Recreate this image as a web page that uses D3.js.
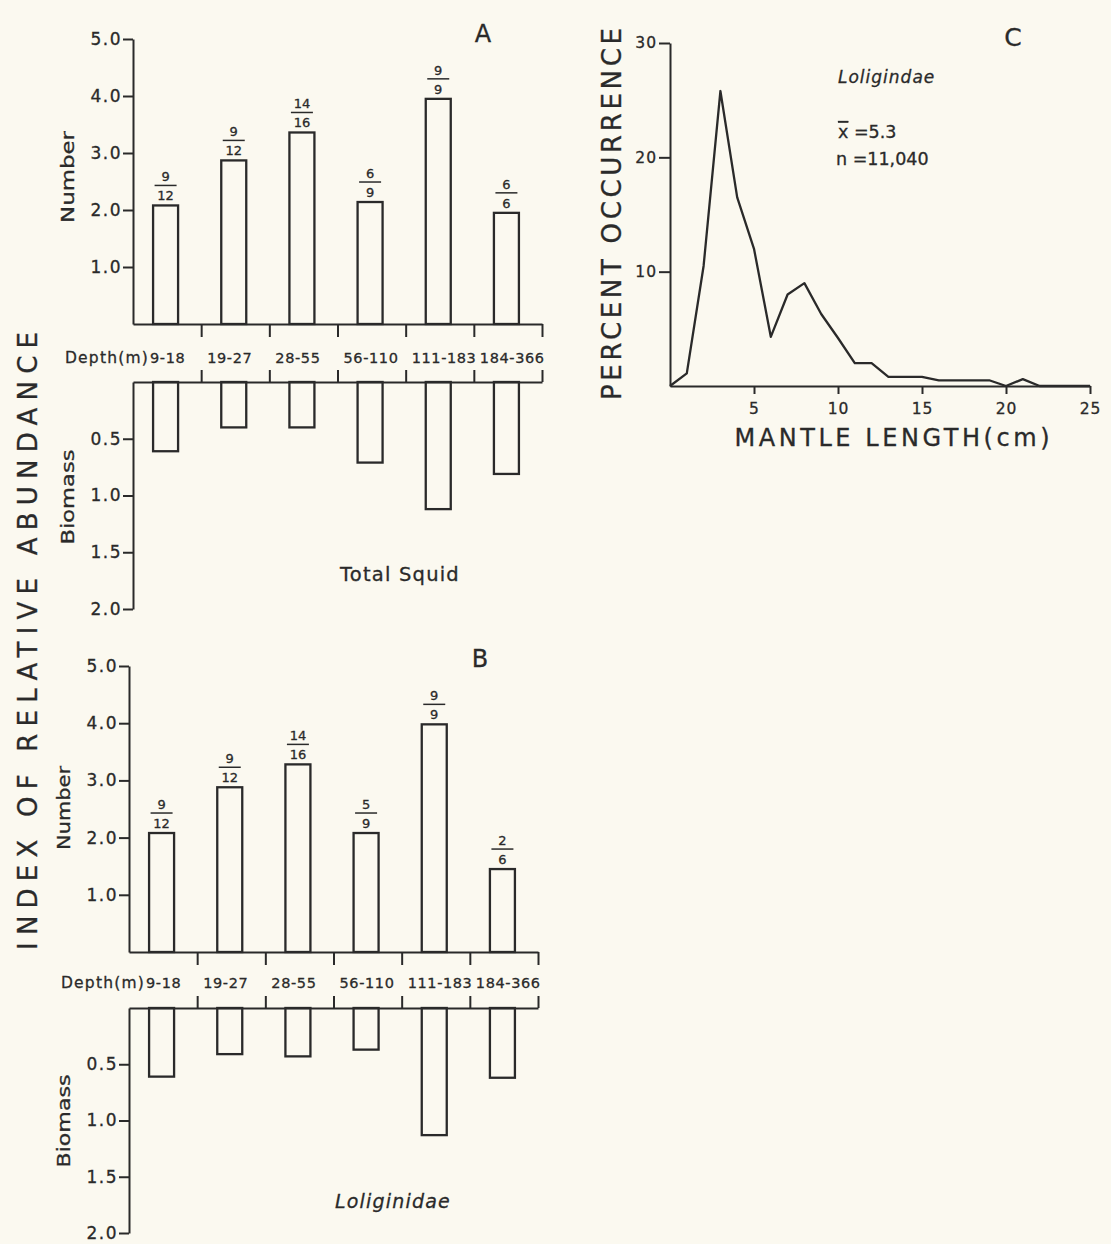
<!DOCTYPE html>
<html>
<head>
<meta charset="utf-8">
<script src="https://cdn.jsdelivr.net/npm/d3@7/dist/d3.min.js"></script>
<style>
body{margin:0;background:#fbf9f0;}
svg{display:block;font-family:"DejaVu Sans",sans-serif;}
text{fill:#2a2a2a;stroke:#2a2a2a;stroke-width:0.3px;}
.axis path,.axis line{stroke:#2a2a2a;stroke-width:2;}
.axis text{font-size:17px;letter-spacing:1.5px;fill:#2a2a2a;font-family:"DejaVu Sans",sans-serif;}
.bar{fill:#fbf9f0;stroke:#2a2a2a;stroke-width:2.3;}
</style>
</head>
<body>
<svg id="fig" width="1111" height="1244"></svg>
<script>
//depth classes shared by panels A and B
var depths = ["9-18", "19-27", "28-55", "56-110", "111-183", "184-366"];

//A: total squid
var numberA = [2.08, 2.87, 3.36, 2.14, 3.95, 1.95];
var biomassA = [0.61, 0.40, 0.40, 0.71, 1.12, 0.81];
var fracTopA = ["9", "9", "14", "6", "9", "6"];
var fracBotA = ["12", "12", "16", "9", "9", "6"];

//B: Loliginidae
var numberB = [2.08, 2.88, 3.28, 2.08, 3.98, 1.45];
var biomassB = [0.61, 0.41, 0.43, 0.37, 1.13, 0.62];
var fracTopB = ["9", "9", "14", "5", "9", "2"];
var fracBotB = ["12", "12", "16", "9", "9", "6"];

var numTicks = [1, 2, 3, 4, 5];
var bioTicks = [0.5, 1, 1.5, 2];

//C: mantle length frequency
var mantleLen = [0, 1, 2, 3, 4, 5, 6, 7, 8, 9, 10, 11, 12, 13, 14, 15, 16, 17, 18, 19, 20, 21, 22, 25];
var pctOcc = [0, 1.1, 10.5, 25.8, 16.5, 12, 4.3, 8, 9, 6.3, 4.2, 2, 2, 0.8, 0.8, 0.8, 0.5, 0.5, 0.5, 0.5, 0, 0.6, 0, 0];
var lenTicks = [5, 10, 15, 20, 25];
var pctTicks = [10, 20, 30];

var svg = d3.select("#fig");
var ink = "#2a2a2a";

function drawPanel(p){
	var xb = d3.scaleLinear().domain([0, depths.length]).range([p.x0, p.x1]);
	var yN = d3.scaleLinear().domain([0, 5]).range([p.base, p.top]);
	var yB = d3.scaleLinear().domain([0, 2]).range([p.low, p.bottom]);
	var bw = 25;
	var g = svg.append("g");

	//number bars
	g.selectAll(".nbar")
	  .data(p.number)
	.enter().append("rect")
	  .attr("class", "bar")
	  .attr("x", function(d, i){ return xb(i + 0.5) - bw / 2 - 1.5; })
	  .attr("y", function(d){ return yN(d); })
	  .attr("width", bw)
	  .attr("height", function(d){ return p.base - yN(d); });

	//biomass bars (hang down)
	g.selectAll(".bbar")
	  .data(p.biomass)
	.enter().append("rect")
	  .attr("class", "bar")
	  .attr("x", function(d, i){ return xb(i + 0.5) - bw / 2 - 1.5; })
	  .attr("y", p.low)
	  .attr("width", bw)
	  .attr("height", function(d){ return yB(d) - p.low; });

	//fractions above number bars
	p.number.forEach(function(v, i){
		var cx = xb(i + 0.5) - 1.5, ty = yN(v);
		g.append("text").attr("x", cx).attr("y", ty - 24)
		  .attr("text-anchor", "middle").style("font-size", "13px").text(p.fracTop[i]);
		g.append("line").attr("x1", cx - 11).attr("x2", cx + 11)
		  .attr("y1", ty - 20).attr("y2", ty - 20)
		  .attr("stroke", ink).attr("stroke-width", 1.5);
		g.append("text").attr("x", cx).attr("y", ty - 5)
		  .attr("text-anchor", "middle").style("font-size", "13px").text(p.fracBot[i]);
	});

	//axes
	g.append("g").attr("class", "axis")
	  .attr("transform", "translate(" + p.x0 + ",0)")
	  .call(d3.axisLeft(yN).tickValues(numTicks).tickFormat(d3.format(".1f"))
	    .tickSize(10).tickSizeOuter(0).tickPadding(1));
	g.append("g").attr("class", "axis")
	  .attr("transform", "translate(" + p.x0 + ",0)")
	  .call(d3.axisLeft(yB).tickValues(bioTicks).tickFormat(d3.format(".1f"))
	    .tickSize(10).tickSizeOuter(0).tickPadding(1));
	g.append("g").attr("class", "axis")
	  .attr("transform", "translate(0," + p.base + ")")
	  .call(d3.axisBottom(xb).tickValues([1, 2, 3, 4, 5, 6]).tickFormat("")
	    .tickSize(13).tickSizeOuter(0));
	g.append("g").attr("class", "axis")
	  .attr("transform", "translate(0," + p.low + ")")
	  .call(d3.axisTop(xb).tickValues([1, 2, 3, 4, 5, 6]).tickFormat("")
	    .tickSize(12).tickSizeOuter(0));

	//depth labels: each starts just right of its band's left divider
	g.append("text").attr("x", xb(0) + 16).attr("y", p.lab)
	  .attr("text-anchor", "end").style("font-size", "15.5px").style("letter-spacing", "1.2px")
	  .text("Depth(m)");
	g.selectAll(".dlab")
	  .data(depths)
	.enter().append("text")
	  .attr("x", function(d, i){ return i == 0 ? xb(0) + 17 : xb(i) + 6; })
	  .attr("y", p.lab)
	  .style("font-size", "14.5px").style("letter-spacing", "0.6px")
	  .text(function(d){ return d; });

	//axis titles
	g.append("text")
	  .attr("transform", "translate(" + p.ylabX + "," + p.numLabY + ") rotate(-90)")
	  .attr("text-anchor", "middle").style("font-size", "18px")
	  .attr("textLength", p.numLen).attr("lengthAdjust", "spacingAndGlyphs")
	  .text("Number");
	g.append("text")
	  .attr("transform", "translate(" + p.ylabX + "," + p.bioLabY + ") rotate(-90)")
	  .attr("text-anchor", "middle").style("font-size", "18px")
	  .attr("textLength", p.bioLen).attr("lengthAdjust", "spacingAndGlyphs")
	  .text("Biomass");

	//panel letter and taxon
	g.append("text").attr("x", p.letterX).attr("y", p.letterY)
	  .attr("text-anchor", "middle").style("font-size", "24px").text(p.letter);
	g.append("text").attr("x", p.taxX).attr("y", p.taxY)
	  .attr("text-anchor", "middle").style("font-size", p.taxSize)
	  .style("font-style", p.italic ? "italic" : "normal")
	  .style("letter-spacing", "1.2px")
	  .text(p.taxon);
}

drawPanel({
	x0: 133, x1: 542, top: 39, base: 324, low: 382, bottom: 609, lab: 363,
	number: numberA, biomass: biomassA, fracTop: fracTopA, fracBot: fracBotA,
	ylabX: 74, numLabY: 177, bioLabY: 497, numLen: 92, bioLen: 95,
	letter: "A", letterX: 483, letterY: 42,
	taxon: "Total Squid", taxX: 400, taxY: 581, italic: false, taxSize: "19.5px"
});

drawPanel({
	x0: 129, x1: 538, top: 666, base: 952, low: 1008, bottom: 1233, lab: 988,
	number: numberB, biomass: biomassB, fracTop: fracTopB, fracBot: fracBotB,
	ylabX: 70, numLabY: 808, bioLabY: 1121, numLen: 84, bioLen: 93,
	letter: "B", letterX: 480, letterY: 667,
	taxon: "Loliginidae", taxX: 393, taxY: 1208, italic: true, taxSize: "19px"
});

//shared y title
svg.append("text")
  .attr("transform", "translate(37,641) rotate(-90)")
  .attr("text-anchor", "middle").style("font-size", "26px")
  .attr("textLength", 618).attr("lengthAdjust", "spacing")
  .text("INDEX OF RELATIVE ABUNDANCE");

//panel C
var cx0 = 670, cx1 = 1090, cyBase = 386, cyTop = 43;
var xL = d3.scaleLinear().domain([0, 25]).range([cx0, cx1]);
var yP = d3.scaleLinear().domain([0, 30]).range([cyBase, cyTop]);
var gc = svg.append("g");

gc.append("g").attr("class", "axis cx")
  .attr("transform", "translate(0," + cyBase + ")")
  .call(d3.axisBottom(xL).tickValues(lenTicks).tickSize(8).tickSizeOuter(0).tickPadding(9));
gc.append("g").attr("class", "axis cy")
  .attr("transform", "translate(" + cx0 + ",0)")
  .call(d3.axisLeft(yP).tickValues(pctTicks).tickSize(11).tickSizeOuter(0).tickPadding(2));
gc.selectAll(".cx text, .cy text").style("font-size", "15.5px").style("letter-spacing", "1px");

var line = d3.line()
	.x(function(d, i){ return xL(mantleLen[i]); })
	.y(function(d){ return yP(d); });
gc.append("path")
  .datum(pctOcc)
  .attr("d", line)
  .attr("fill", "none")
  .attr("stroke", ink)
  .attr("stroke-width", 2.3)
  .attr("stroke-linejoin", "round");

gc.append("text").attr("x", 1013).attr("y", 46)
  .attr("text-anchor", "middle").style("font-size", "25px").text("C");
gc.append("text").attr("x", 838).attr("y", 83)
  .style("font-size", "17px").style("font-style", "italic").style("letter-spacing", "1px")
  .text("Loligindae");
var mt = gc.append("text").attr("x", 838).attr("y", 138).style("font-size", "17.5px");
mt.append("tspan").style("text-decoration", "overline").text("x");
mt.append("tspan").text(" =5.3");
gc.append("text").attr("x", 836).attr("y", 165).style("font-size", "17.5px")
  .text("n =11,040");

gc.append("text")
  .attr("transform", "translate(621,214) rotate(-90)")
  .attr("text-anchor", "middle").style("font-size", "26px")
  .attr("textLength", 372).attr("lengthAdjust", "spacing")
  .text("PERCENT OCCURRENCE");
gc.append("text").attr("x", 892).attr("y", 446)
  .attr("text-anchor", "middle").style("font-size", "24px")
  .attr("textLength", 315).attr("lengthAdjust", "spacing")
  .text("MANTLE LENGTH(cm)");
</script>
</body>
</html>
